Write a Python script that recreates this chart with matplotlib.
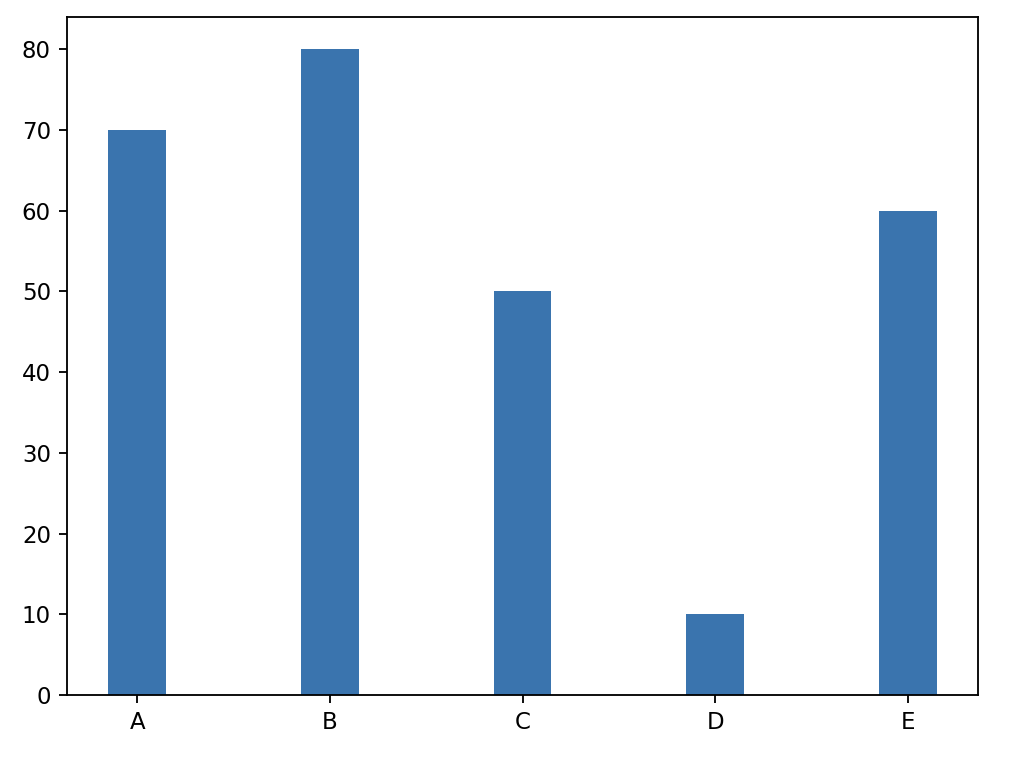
import matplotlib
matplotlib.use("Agg")
import matplotlib.pyplot as plt

categories = ["A", "B", "C", "D", "E"]
values = [70, 80, 50, 10, 60]

dpi = 165
fig = plt.figure(figsize=(1024 / dpi, 765 / dpi), dpi=dpi)
ax = fig.add_axes([67 / 1024, 1 - 695 / 765, (978 - 67) / 1024, (695 - 17) / 765])
ax.bar(categories, values, width=0.3, color="#3a74ae")

fig.savefig("out.png", dpi=dpi)
